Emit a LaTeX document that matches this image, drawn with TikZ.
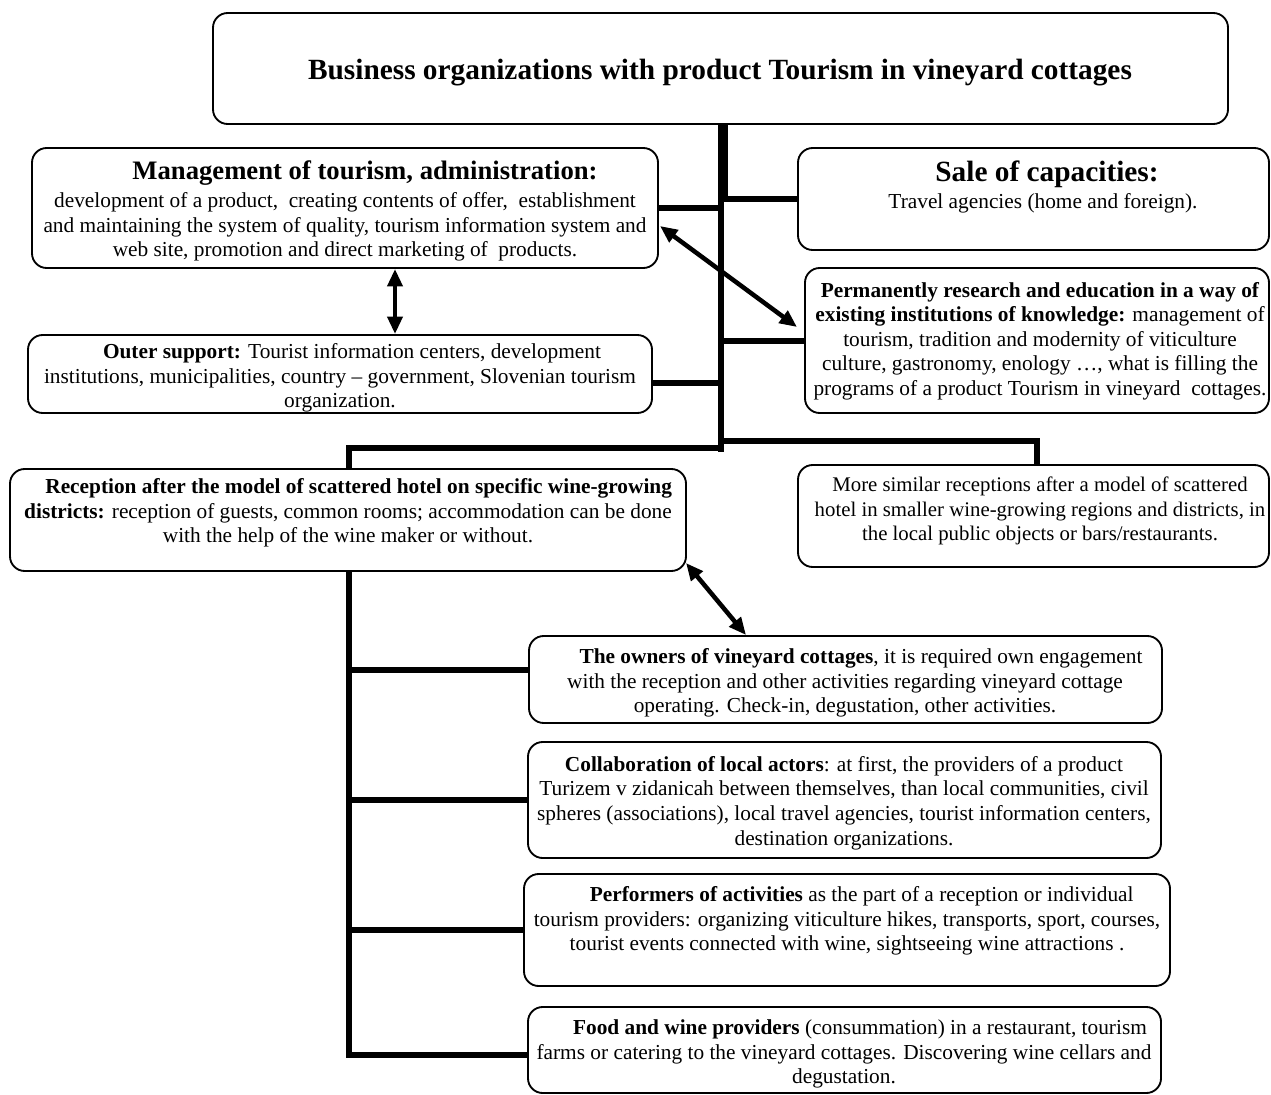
\documentclass[tikz,border=0pt]{standalone}
\usepackage{fontspec}
\setmainfont{Liberation Serif}
\usetikzlibrary{arrows.meta,calc}
\newcommand\mkbox[5]{\node[box, minimum width={(#4-#2)*0.75pt}, minimum height={(#5-#3)*0.75pt}] (#1) at ({(#2+#4)/2},{(#3+#5)/2}) {};}
\tikzset{
  box/.style={draw, line width=1.4pt, rounded corners=11pt, inner sep=0pt},
  conn/.style={line width=4.5pt, line join=miter},
  dbl/.style={line width=3.4pt, {Triangle[length=13pt,width=11pt]}-{Triangle[length=13pt,width=11pt]}},
  txt/.style={align=center, inner sep=0pt, font=\fontsize{16}{18.4}\selectfont},
}
\begin{document}
\begin{tikzpicture}[x=0.75pt,y=-0.75pt]
\useasboundingbox (0,0) rectangle (1271,1095);
% boxes
\mkbox{top}{213}{13}{1228}{124}
\mkbox{mgmt}{32}{148}{658}{268}
\mkbox{sale}{798}{148}{1269}{250}
\mkbox{research}{805}{268}{1269}{413}
\mkbox{outer}{28}{335}{652}{413}
\mkbox{rec}{10}{469}{686}{571}
\mkbox{more}{798}{465}{1269}{567}
\mkbox{owners}{529}{636}{1162}{723}
\mkbox{collab}{528}{742}{1161}{858}
\mkbox{perf}{524}{874}{1170}{986}
\mkbox{food}{528}{1007}{1161}{1093}
% texts
\node[txt, font=\fontsize{22}{26}\selectfont\bfseries] (top-t) at (720,73) {Business organizations with product Tourism in vineyard cottages};
\node[txt, font=\fontsize{20}{24}\selectfont\bfseries] (mgmt-h) at (365,173) {Management of tourism, administration:};
\node[txt] (mgmt-b) at (345,227) {development of a product,\ \ creating contents of offer,\ \ establishment\\and maintaining the system of quality, tourism information system and\\web site, promotion and direct marketing of\ \ products.};
\node[txt, font=\fontsize{22}{26}\selectfont\bfseries] (sale-h) at (1047,174) {Sale of capacities:};
\node[txt] (sale-b) at (1043,203) {Travel agencies (home and foreign).};
\node[txt] (research-t) at (1040,341) {\textbf{Permanently research and education in a way of}\\\textbf{existing institutions of knowledge:} management of\\tourism, tradition and modernity of viticulture\\culture, gastronomy, enology …, what is filling the\\programs of a product Tourism in vineyard\ \ cottages.};
\node[txt] (outer-t) at (340,378) {\hspace*{18pt}\textbf{Outer support:} Tourist information centers, development\\institutions, municipalities, country – government, Slovenian tourism\\organization.};
\node[txt] (rec-t) at (348,513) {\hspace*{16pt}\textbf{Reception after the model of scattered hotel on specific wine-growing}\\\textbf{districts:} reception of guests, common rooms; accommodation can be done\\with the help of the wine maker or without.};
\node[txt, font=\fontsize{15.6}{18.4}\selectfont] (more-t) at (1040,511) {More similar receptions after a model of scattered\\hotel in smaller wine-growing regions and districts, in\\the local public objects or bars/restaurants.};
\node[txt] (owners-t) at (845,683) {\hspace*{24pt}\textbf{The owners of vineyard cottages}, it is required own engagement\\with the reception and other activities regarding vineyard cottage\\operating. Check-in, degustation, other activities.};
\node[txt] (collab-t) at (844,803) {\textbf{Collaboration of local actors}: at first, the providers of a product\\Turizem v zidanicah between themselves, than local communities, civil\\spheres (associations), local travel agencies, tourist information centers,\\destination organizations.};
\node[txt] (perf-t) at (847,921) {\hspace*{22pt}\textbf{Performers of activities} as the part of a reception or individual\\tourism providers: organizing viticulture hikes, transports, sport, courses,\\tourist events connected with wine, sightseeing wine attractions .};
\node[txt] (food-t) at (844,1054) {\hspace*{24pt}\textbf{Food and wine providers} (consummation) in a restaurant, tourism\\farms or catering to the vineyard cottages. Discovering wine cellars and\\degustation.};
% junction coordinates
\coordinate (tk) at (723,200);
\coordinate (tm) at (721,196);
\coordinate (tr) at (721,452);
\coordinate (oj) at (721,383);
\coordinate (lj) at (721,448);
\coordinate (lb) at (349,448);
\coordinate (rj) at (721,441);
\coordinate (rb) at (1037,441);
\coordinate (ow) at (349,670);
\coordinate (lbot) at (349,1055);
% trunk
\draw[line width=7.5pt] (top.south -| tk) -- (tk);
\draw[conn] (tm) -- (tr);
\draw[conn] (tk |- sale.west) -- (sale.west);
\draw[conn] (mgmt.east) -- (mgmt.east -| tr);
\draw[conn] (tr |- research.west) -- (research.west);
\draw[conn] (outer.east |- oj) -- (oj);
\draw[conn] (lj) -- (lb) -- (lb |- rec.north);
\draw[conn] (rj) -- (rb) -- (rb |- more.north);
\draw[conn] (lb |- rec.south) -- (lbot) -- (lbot -| food.west);
\draw[conn] (ow) -- (ow -| owners.west);
\draw[conn] (lb |- collab.west) -- (collab.west);
\draw[conn] (lb |- perf.west) -- (perf.west);
% arrows
\coordinate (ax) at (395,300);
\coordinate (ma) at (660,226);
\coordinate (ra) at (797,327);
\coordinate (rc) at (686,563);
\coordinate (oc) at (746,635);
\draw[dbl] (mgmt.south -| ax) -- (outer.north -| ax);
\draw[dbl] (ma) -- (ra);
\draw[dbl] (rc) -- (oc);
\end{tikzpicture}
\end{document}
